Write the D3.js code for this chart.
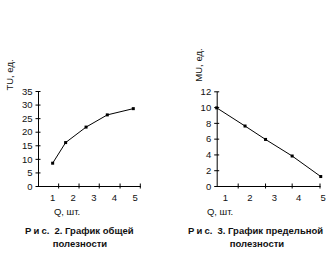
<!DOCTYPE html>
<html>
<head>
<meta charset="utf-8">
<script src="https://cdn.jsdelivr.net/npm/d3@7"></script>
<style>
  body { margin: 0; background: #fff; }
  svg text { font-family: Arial, "Liberation Sans", sans-serif; fill: #111; }
</style>
</head>
<body>
<div class="chart"></div>
<script>
// chart 1 - total utility
const tuQ = [1.03, 1.66, 2.65, 3.68, 4.94];
const tuValues = [8.4, 16, 21.7, 26.2, 28.5];
const tuYTicks = [0, 5, 10, 15, 20, 25, 30, 35];
const tuXLabels = [1, 2, 3, 4, 5];
const tuXMarks = [1.32, 2.31, 3.29, 4.3, 5.28];

// chart 2 - marginal utility
const muQ = [0.66, 1.82, 2.66, 3.75, 4.92];
const muValues = [9.9, 7.6, 5.9, 3.8, 1.2];
const muYTicks = [0, 2, 4, 6, 8, 10, 12];
const muXLabels = [1, 2, 3, 4, 5];
const muXMarks = [1.54, 2.66, 3.75, 4.89];

const svg = d3.select('.chart')
  .append('svg')
  .attr('width', 333)
  .attr('height', 258);

function drawChart(cfg) {
  const x = d3.scaleLinear().domain(cfg.xDomain).range([cfg.left, cfg.right]);
  const y = d3.scaleLinear().domain(cfg.yDomain).range([cfg.bottom, cfg.top]);
  const g = svg.append('g');

  // y axis, ticks cross the line
  const yAxis = g.append('g')
    .attr('transform', `translate(${cfg.left},0)`)
    .call(d3.axisLeft(y).tickValues(cfg.yTicks).tickSize(2.5).tickSizeOuter(0).tickPadding(3));
  yAxis.selectAll('.tick line').attr('x2', 2.5).attr('x1', -2.5);
  yAxis.select('.domain').attr('stroke', '#000');
  yAxis.selectAll('text').attr('font-size', 9.5).attr('dy', '0.34em');

  // x axis: labels and marks sit at different spots in the picture
  const xAxis = g.append('g')
    .attr('transform', `translate(0,${cfg.bottom})`)
    .call(d3.axisBottom(x).tickValues(cfg.xLabels).tickFormat(d3.format('d'))
      .tickSize(0).tickSizeOuter(0).tickPadding(8));
  xAxis.select('.domain').attr('stroke', '#000');
  xAxis.selectAll('text').attr('font-size', 9.5);

  g.append('g')
    .selectAll('line')
    .data(cfg.xMarks)
    .enter()
    .append('line')
    .attr('x1', d => x(d))
    .attr('x2', d => x(d))
    .attr('y1', cfg.bottom - 2.5)
    .attr('y2', cfg.bottom + 2.5)
    .attr('stroke', '#000');

  const pts = cfg.q.map((q, i) => [q, cfg.v[i]]);

  g.append('path')
    .datum(pts)
    .attr('fill', 'none')
    .attr('stroke', '#000')
    .attr('stroke-width', 1)
    .attr('d', d3.line().x(d => x(d[0])).y(d => y(d[1])));

  g.selectAll('rect.pt')
    .data(pts)
    .enter()
    .append('rect')
    .attr('class', 'pt')
    .attr('x', d => x(d[0]) - 1.5)
    .attr('y', d => y(d[1]) - 1.5)
    .attr('width', 3)
    .attr('height', 3)
    .attr('fill', '#000');

  // axis titles
  g.append('text')
    .attr('transform', `translate(${cfg.yTitleX},${cfg.yTitleY}) rotate(-90)`)
    .attr('text-anchor', 'middle')
    .attr('dy', '0.35em')
    .attr('font-size', 9.5)
    .text(cfg.yTitle);

  g.append('text')
    .attr('x', cfg.xTitleX)
    .attr('y', 212)
    .attr('text-anchor', 'middle')
    .attr('dy', '0.35em')
    .attr('font-size', 9.5)
    .text('Q, шт.');

  // caption under the chart, "Рис." is spaced out in the scan
  const cap = g.append('text')
    .attr('x', cfg.capX)
    .attr('y', 231)
    .attr('dy', '0.35em')
    .attr('font-size', 9.5)
    .attr('font-weight', 'bold');
  cap.append('tspan').attr('letter-spacing', 2.2).text('Ри');
  cap.append('tspan').text('с.');
  cap.append('tspan').attr('dx', 5).text(cfg.caption1);

  g.append('text')
    .attr('x', cfg.cap2X)
    .attr('y', 244)
    .attr('dy', '0.35em')
    .attr('text-anchor', 'middle')
    .attr('font-size', 9.5)
    .attr('font-weight', 'bold')
    .text('полезности');
}

drawChart({
  q: tuQ, v: tuValues, yTicks: tuYTicks, xLabels: tuXLabels, xMarks: tuXMarks,
  xDomain: [0.32, 5.28], yDomain: [0, 35],
  left: 38, right: 140.3, top: 91, bottom: 186,
  yTitle: 'TU, ед.', yTitleX: 10, yTitleY: 75, xTitleX: 67,
  caption1: '2. График общей', capX: 25, cap2X: 80
});

drawChart({
  q: muQ, v: muValues, yTicks: muYTicks, xLabels: muXLabels, xMarks: muXMarks,
  xDomain: [0.66, 4.89], yDomain: [0, 12],
  left: 216.7, right: 320, top: 91.3, bottom: 186,
  yTitle: 'MU, ед.', yTitleX: 198.3, yTitleY: 65, xTitleX: 220,
  caption1: '3. График предельной', capX: 188, cap2X: 257
});
</script>
</body>
</html>
